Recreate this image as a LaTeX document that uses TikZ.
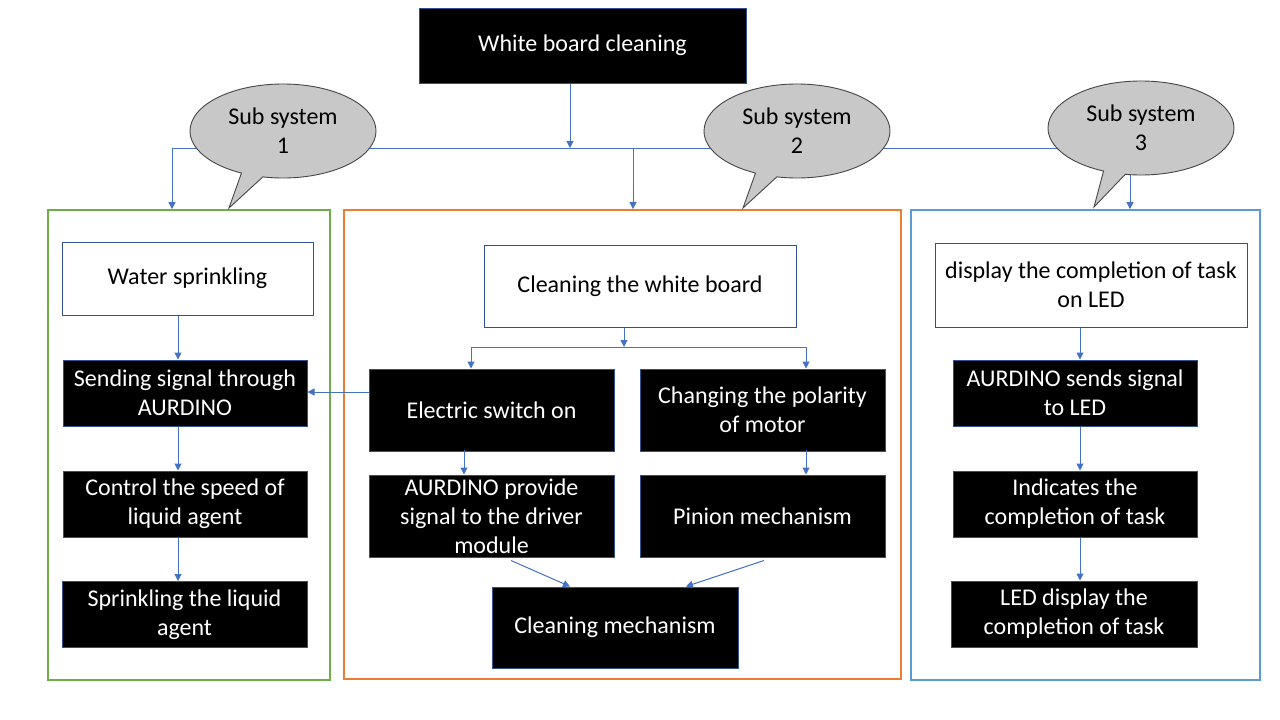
\documentclass[tikz,border=0pt]{standalone}
\usepackage{fontspec}
\setmainfont{Carlito}
\usetikzlibrary{arrows.meta,shapes.callouts,shapes.geometric}
\definecolor{arrc}{HTML}{4472C4}
\definecolor{edgec}{HTML}{2F528F}
\definecolor{grn}{HTML}{70AD47}
\definecolor{org}{HTML}{ED7D31}
\definecolor{blu}{HTML}{5B9BD5}
\definecolor{bubfill}{RGB}{200,200,200}
\definecolor{bubedge}{RGB}{70,70,70}
\begin{document}
\begin{tikzpicture}[x=1pt,y=-1pt,
  txt/.style={font=\fontsize{24}{29}\selectfont, align=center, inner sep=0pt},
  blk/.style={txt, draw=edgec, fill=black, text=white, line width=1pt},
  wht/.style={txt, draw=edgec, fill=white, text=black, line width=1pt},
  arr/.style={draw=arrc, line width=1pt, -{Triangle[width=7pt,length=7pt]}},
  ln/.style={draw=arrc, line width=1pt},
  frm/.style={line width=1.8pt, inner sep=0pt},
  bub/.style={txt, ellipse callout, draw=bubedge, fill=bubfill, line width=0.9pt,
    minimum width=186pt, minimum height=94pt, callout pointer arc=14}]
\fill[white] (0,0) rectangle (1280,720);
\useasboundingbox (0,0) rectangle (1280,720);

% frames
\node[frm, draw=grn, minimum width=282pt, minimum height=470pt] (f1) at (189,445) {};
\node[frm, draw=org, minimum width=557pt, minimum height=469pt] (f2) at (622.5,444.5) {};
\node[frm, draw=blu, minimum width=349pt, minimum height=470pt] (f3) at (1085.5,445) {};

% title
\node[blk, minimum width=327pt, minimum height=75pt] (title) at (582.5,45.5) {White board cleaning};

% top bus
\coordinate (hub) at (570,148);
\coordinate (jL) at (172,148);
\coordinate (jM) at (633,148);
\coordinate (jR) at (1130,148);
\draw[arr] (title.south -| hub) -- (hub);
\draw[ln] (jL) -- (jR);
\draw[arr] (jL) -- (jL |- f1.north);
\draw[arr] (jM) -- (jM |- f2.north);
\draw[arr] (jR) -- (jR |- f3.north);

% callouts
\node[bub, callout absolute pointer={(229,208)}] (c1) at (283,131) {Sub system\\1};
\node[bub, callout absolute pointer={(743,208)}] (c2) at (797,131) {Sub system\\2};
\node[bub, callout absolute pointer={(1094,207)}] (c3) at (1141,128) {Sub system\\3};

% left column
\node[wht, minimum width=251pt, minimum height=73pt] (ws) at (187.5,278.5) {Water sprinkling};
\node[blk, minimum width=244pt, minimum height=66pt] (s1) at (185,393) {Sending signal through\\AURDINO};
\node[blk, minimum width=244pt, minimum height=66pt] (s2) at (185,504) {Control the speed of\\liquid agent};
\node[blk, minimum width=245pt, minimum height=66pt] (s3) at (184.5,614.5) {Sprinkling the liquid\\agent};
\coordinate (xL) at (178,0);
\draw[arr] (ws.south -| xL) -- (s1.north -| xL);
\draw[arr] (s1.south -| xL) -- (s2.north -| xL);
\draw[arr] (s2.south -| xL) -- (s3.north -| xL);

% middle column
\node[wht, minimum width=312pt, minimum height=82pt] (cw) at (640,286) {Cleaning the white board};
\node[blk, minimum width=245pt, minimum height=82pt] (es) at (491.5,410) {Electric switch on};
\node[blk, minimum width=245pt, minimum height=82pt] (cp) at (762.5,410) {Changing the polarity\\of motor};
\node[blk, minimum width=245pt, minimum height=82pt] (ap) at (491.5,516) {AURDINO provide\\signal to the driver\\module};
\node[blk, minimum width=245pt, minimum height=82pt] (pm) at (762.5,516) {Pinion mechanism};
\node[blk, minimum width=246pt, minimum height=81pt] (cm) at (615,627.5) {Cleaning mechanism};
\coordinate (mj) at (624,347);
\coordinate (mjL) at (471,347);
\coordinate (mjR) at (806,347);
\coordinate (xM) at (464,0);
\coordinate (yE) at (0,392);
\draw[arr] (cw.south -| mj) -- (mj);
\draw[ln] (mjL) -- (mjR);
\draw[arr] (mjL) -- (mjL |- es.north);
\draw[arr] (mjR) -- (mjR |- cp.north);
\draw[arr] (es.west |- yE) -- (s1.east |- yE);
\draw[arr] ([yshift=2pt]es.south -| xM) -- (ap.north -| xM);
\draw[arr] ([yshift=2pt]cp.south -| mjR) -- (pm.north -| mjR);
\draw[arr] ([shift={(19.5,3)}]ap.south) -- ([xshift=-45pt]cm.north);
\draw[arr] ([shift={(1.5,3)}]pm.south) -- ([xshift=71pt]cm.north);

% right column
\node[wht, minimum width=312pt, minimum height=84pt] (dl) at (1091,285) {display the completion of task\\on LED};
\node[blk, minimum width=244pt, minimum height=66pt] (a1) at (1075,393) {AURDINO sends signal\\to LED};
\node[blk, minimum width=244pt, minimum height=66pt] (a2) at (1075,504) {Indicates the\\completion of task};
\node[blk, minimum width=246pt, minimum height=66pt] (a3) at (1074,614) {LED display the\\completion of task};
\coordinate (xR) at (1080,0);
\draw[arr] (dl.south -| xR) -- (a1.north -| xR);
\draw[arr] (a1.south -| xR) -- (a2.north -| xR);
\draw[arr] (a2.south -| xR) -- (a3.north -| xR);
\end{tikzpicture}
\end{document}
